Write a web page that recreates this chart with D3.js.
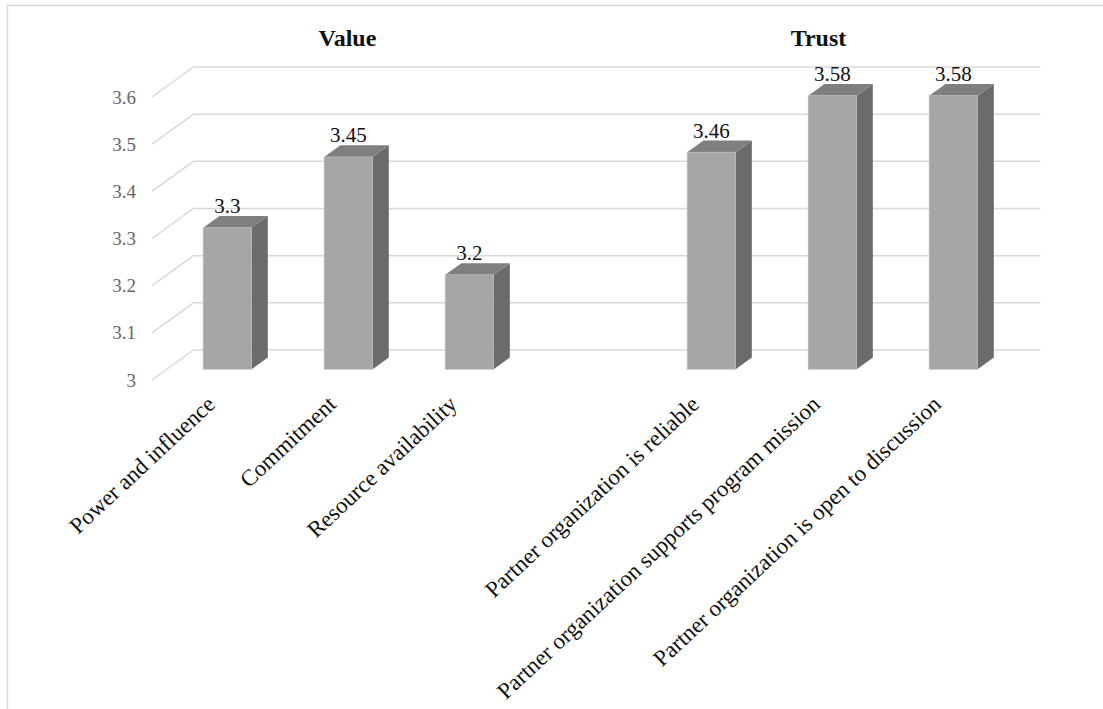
<!DOCTYPE html>
<html>
<head>
<meta charset="utf-8">
<script src="https://cdn.jsdelivr.net/npm/d3@7"></script>
<style>
  body { margin: 0; background: #fff; }
  svg { display: block; }
  svg text { font-family: "Liberation Serif", "Times New Roman", "DejaVu Serif", serif; }
</style>
</head>
<body>
<svg id="chart" width="1103" height="709"></svg>
<script>
// chart data
const categories = [
  'Power and influence',
  'Commitment',
  'Resource availability',
  '',
  'Partner organization is reliable',
  'Partner organization supports program mission',
  'Partner organization is open to discussion',
];
const values = [3.3, 3.45, 3.2, null, 3.46, 3.58, 3.58];
const tickValues = [3, 3.1, 3.2, 3.3, 3.4, 3.5, 3.6];
const groupTitles = ['Value', 'Trust'];
const groupCenters = [1, 5]; // category index under each title

const width = 1103;
const height = 709;

// 3d look: the floor goes back DX right and DY up
const DX = 41.5;
const DY = 30;
const barFront = 0.36;
const barBack = 0.75;

const svg = d3.select('#chart');

const x = d3.scaleBand()
  .domain(d3.range(categories.length))
  .range([152, 999])
  .paddingInner(0.6)
  .paddingOuter(0.3);

const y = d3.scaleLinear().domain([3, 3.6]).range([380, 97]);

// outer frame
svg.append('rect')
  .attr('x', 7.5)
  .attr('y', 5.5)
  .attr('width', width + 20)
  .attr('height', height + 20)
  .attr('fill', 'none')
  .attr('stroke', '#d9d9d9')
  .attr('stroke-width', 1.5);

// grid lines: side wall diagonal + back wall
const grid = svg.append('g');
grid.selectAll('path')
  .data(tickValues)
  .enter()
  .append('path')
  .attr('fill', 'none')
  .attr('stroke', '#d9d9d9')
  .attr('stroke-width', 1.5)
  .attr('d', (t) => {
    const x0 = x.range()[0];
    const x1 = x.range()[1];
    return d3.line()([
      [x0, y(t)],
      [x0 + DX, y(t) - DY],
      [x1 + DX, y(t) - DY],
    ]);
  });

// y tick labels
svg.append('g')
  .selectAll('text')
  .data(tickValues)
  .enter()
  .append('text')
  .attr('x', x.range()[0] - 16)
  .attr('y', (t) => y(t))
  .attr('dy', '0.35em')
  .attr('text-anchor', 'end')
  .attr('font-size', 19)
  .attr('fill', '#666')
  .text((t) => d3.format('~g')(t));

// bars
const bars = categories
  .map((c, i) => ({ i, v: values[i] }))
  .filter((d) => d.v != null);

const ddx = (barBack - barFront) * DX;
const ddy = (barBack - barFront) * DY;
const bw = x.bandwidth();

const barG = svg.append('g')
  .selectAll('g')
  .data(bars)
  .enter()
  .append('g');

const geom = (d) => {
  const x0 = x(d.i) + barFront * DX;
  const top = y(d.v) - barFront * DY;
  const base = y(3) - barFront * DY;
  return { x0, x1: x0 + bw, top, base };
};

barG.append('path')
  .attr('fill', '#6b6b6b')
  .attr('d', (d) => {
    const g = geom(d);
    return d3.line()([
      [g.x1, g.top], [g.x1 + ddx, g.top - ddy],
      [g.x1 + ddx, g.base - ddy], [g.x1, g.base],
    ]) + 'Z';
  });

barG.append('path')
  .attr('fill', '#7f7f7f')
  .attr('d', (d) => {
    const g = geom(d);
    return d3.line()([
      [g.x0, g.top], [g.x0 + ddx, g.top - ddy],
      [g.x1 + ddx, g.top - ddy], [g.x1, g.top],
    ]) + 'Z';
  });

barG.append('rect')
  .attr('x', (d) => geom(d).x0)
  .attr('y', (d) => geom(d).top)
  .attr('width', bw)
  .attr('height', (d) => geom(d).base - geom(d).top)
  .attr('fill', '#a6a6a6')
  .attr('stroke', '#b8b8b8')
  .attr('stroke-width', 0.75);

// value labels
barG.append('text')
  .attr('x', (d) => geom(d).x0 + bw / 2)
  .attr('y', (d) => geom(d).top - ddy - 3)
  .attr('text-anchor', 'middle')
  .attr('font-size', 21)
  .attr('fill', '#111')
  .text((d) => d.v);

// category labels, rotated
svg.append('g')
  .selectAll('text')
  .data(categories)
  .enter()
  .append('text')
  .attr('transform', (c, i) => {
    const cx = x(i) + bw / 2 + 4;
    return `translate(${cx},406) rotate(-43)`;
  })
  .attr('text-anchor', 'end')
  .attr('font-size', 23)
  .attr('fill', '#111')
  .text((c) => c);

// group titles
svg.append('g')
  .selectAll('text')
  .data(groupTitles)
  .enter()
  .append('text')
  .attr('x', (t, k) => x(groupCenters[k]) + barFront * DX + bw / 2 + (k === 1 ? -14 : -1))
  .attr('y', 46)
  .attr('text-anchor', 'middle')
  .attr('font-size', 24)
  .attr('font-weight', 'bold')
  .attr('fill', '#111')
  .text((t) => t);
</script>
</body>
</html>
